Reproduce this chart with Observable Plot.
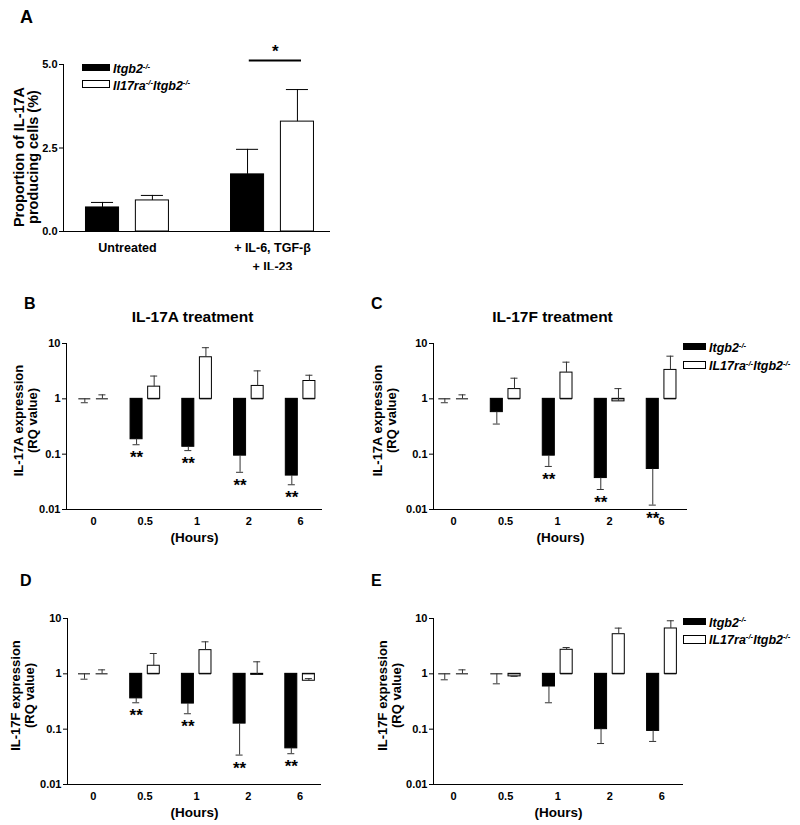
<!DOCTYPE html>
<html><head><meta charset="utf-8">
<script src="https://cdn.jsdelivr.net/npm/d3@7"></script>
<script src="https://cdn.jsdelivr.net/npm/@observablehq/plot@0.6"></script>
<style>
html,body{margin:0;padding:0;background:#fff;}
#fig{position:relative;width:800px;height:825px;background:#fff;font-family:"Liberation Sans",Arial,sans-serif;color:#000;overflow:hidden}
.pl{position:absolute}
.lab{position:absolute;font-weight:bold;line-height:1;white-space:nowrap}
.sw{position:absolute;box-sizing:border-box;border:1px solid #000}
.leg{position:absolute;font-weight:bold;font-style:italic;font-size:12.5px;line-height:1;white-space:nowrap}
.leg sup{font-size:0.62em;vertical-align:0;position:relative;top:-0.55em}
</style></head><body><div id="fig"></div>
<script>
// ---------- Panel A data ----------
const groupsA = ["Untreated", "+ IL-6, TGF-β\n+ IL-23"];
const aItgb2 = [0.72, 1.71];
const aItgb2Err = [0.87, 2.46];
const aDKO = [0.93, 3.29];
const aDKOErr = [1.08, 4.25];
const aTicks = [0, 2.5, 5];
const aSig = ["", "*"];
const aSigLevel = 5.12;

// ---------- Time-course data (B-E) ----------
const hours = ["0", "0.5", "1", "2", "6"];
const logTicks = [0.01, 0.1, 1, 10];

const bItgb2 = [1, 0.186, 0.136, 0.094, 0.041];
const bItgb2Err = [0.85, 0.148, 0.116, 0.047, 0.028];
const bDKO = [1, 1.66, 5.64, 1.71, 2.1];
const bDKOErr = [1.18, 2.58, 8.4, 3.2, 2.67];
const bSig = ["", "**", "**", "**", "**"];

const cItgb2 = [1, 0.575, 0.094, 0.037, 0.054];
const cItgb2Err = [0.85, 0.35, 0.06, 0.023, 0.012];
const cDKO = [1, 1.5, 2.98, 0.9, 3.33];
const cDKOErr = [1.18, 2.36, 4.6, 1.53, 5.9];
const cSig = ["", "", "**", "**", "**"];

const dItgb2 = [1, 0.36, 0.29, 0.126, 0.045];
const dItgb2Err = [0.8, 0.30, 0.19, 0.034, 0.036];
const dDKO = [1, 1.4, 2.68, 0.96, 0.75];
const dDKOErr = [1.18, 2.33, 3.79, 1.65, 0.82];
const dSig = ["", "**", "**", "**", "**"];

const eItgb2 = [1, 1, 0.59, 0.1, 0.093];
const eItgb2Err = [0.78, 0.66, 0.30, 0.055, 0.06];
const eDKO = [1, 0.9, 2.72, 5.2, 6.6];
const eDKOErr = [1.18, 0.9, 2.99, 6.7, 9.1];
const eSig = ["", "", "", "", ""];

const legendA = ["Itgb2<sup>-/-</sup>", "Il17ra<sup>-/-</sup>Itgb2<sup>-/-</sup>"];
const legendCE = ["Itgb2<sup>-/-</sup>", "IL17ra<sup>-/-</sup>Itgb2<sup>-/-</sup>"];

const FONT = '"Liberation Sans", Arial, sans-serif';
const fig = document.getElementById("fig");

function rowsOf(a, aErr, b, bErr, sig) {
  const out = [];
  a.forEach((v, i) => {
    out.push({i, s: 0, value: v, err: aErr[i], sig: sig[i]});
    out.push({i, s: 1, value: b[i], err: bErr[i], sig: ""});
  });
  return out;
}

function place(node, left, top) {
  const d = document.createElement("div");
  d.className = "pl";
  d.style.left = left + "px";
  d.style.top = top + "px";
  d.appendChild(node);
  fig.appendChild(d);
}
function label(text, left, top, size) {
  const d = document.createElement("div");
  d.className = "lab";
  d.style.left = left + "px"; d.style.top = top + "px"; d.style.fontSize = size + "px";
  d.textContent = text;
  fig.appendChild(d);
}
function legend(items, swLeft, swW, swTops, swHs, textLeft, textTops) {
  items.forEach((t, k) => {
    const s = document.createElement("div");
    s.className = "sw";
    s.style.left = swLeft + "px"; s.style.top = swTops[k] + "px";
    s.style.width = swW + "px"; s.style.height = swHs[k] + "px";
    s.style.background = k === 0 ? "#000" : "#fff";
    fig.appendChild(s);
    const l = document.createElement("div");
    l.className = "leg";
    l.style.left = textLeft + "px"; l.style.top = textTops[k] + "px";
    l.innerHTML = t;
    fig.appendChild(l);
  });
}

const baseStyle = {fontFamily: FONT, fontSize: "11px", fontWeight: "bold", color: "black", background: "white", overflow: "visible"};

// ---------- Panel A ----------
{
  const rows = rowsOf(aItgb2, aItgb2Err, aDKO, aDKOErr, aSig);
  const off = 0.172, hw = 0.114, cw = 0.076;
  const c = d => d.i + (d.s ? off : -off);
  const xd = [-0.441, 1.4];
  const sigRows = rows.filter(d => d.sig);
  const p = Plot.plot({
    width: 400, height: 270, marginLeft: 63, marginRight: 70, marginTop: 64, marginBottom: 39,
    x: {type: "linear", domain: xd, axis: null},
    y: {type: "linear", domain: [0, 5]},
    style: baseStyle,
    marks: [
      Plot.rect(rows, {x1: d => c(d) - hw, x2: d => c(d) + hw, y1: () => 0, y2: "value",
        fill: d => d.s ? "white" : "black", stroke: "black", strokeWidth: 1}),
      Plot.ruleX(rows, {x: c, y1: "value", y2: "err", stroke: "black"}),
      Plot.ruleY(rows, {y: "err", x1: d => c(d) - cw, x2: d => c(d) + cw, stroke: "black"}),
      Plot.ruleY(sigRows, {y: () => aSigLevel, x1: d => d.i - 0.16, x2: d => d.i + 0.2, stroke: "black", strokeWidth: 2}),
      Plot.text(sigRows, {x: d => d.i + 0.02, y: () => aSigLevel, text: "sig", dy: -9, fontSize: 17}),
      Plot.ruleX([xd[0]]),
      Plot.ruleY([0]),
      Plot.axisY({ticks: aTicks, tickFormat: d3.format(".1f"), tickSize: 4, tickPadding: 2, fontSize: 11, fontWeight: "bold"}),
      Plot.text(groupsA, {x: (d, i) => i, frameAnchor: "bottom", lineAnchor: "top", dy: 7, fontSize: 12.5, lineHeight: 1.5}),
      Plot.text(["Proportion of IL-17A\nproducing cells (%)"], {frameAnchor: "left", rotate: -90, textAnchor: "middle", lineAnchor: "middle",
        dx: -37, dy: 9, fontSize: 14.5, lineHeight: 1.0})
    ]
  });
  place(p, 0, 0);
}

// ---------- Time panels ----------
function timePanel(o) {
  const rows = rowsOf(o.a, o.aErr, o.b, o.bErr, o.sig);
  const hw = 0.116, cw = 0.068;
  const c = d => d.i + (d.s ? 0.172 : -0.168);
  const marks = [
    Plot.rect(rows, {x1: d => c(d) - hw, x2: d => c(d) + hw, y1: () => 1, y2: "value",
      fill: d => d.s ? "white" : "black", stroke: "black", strokeWidth: 1}),
    Plot.ruleY(rows, {y: () => 1, x1: d => c(d) - hw, x2: d => c(d) + hw, stroke: "black"}),
    Plot.ruleX(rows, {x: c, y1: "value", y2: "err", stroke: "#333"}),
    Plot.ruleY(rows, {y: "err", x1: d => c(d) - cw, x2: d => c(d) + cw, stroke: "#333"}),
    Plot.text(rows.filter(d => d.sig), {x: c, y: "err", text: "sig", dy: 13, fontSize: 17}),
    Plot.ruleX([o.xd[0]]),
    Plot.ruleY([0.01]),
    Plot.axisY({ticks: logTicks, tickFormat: d => String(d), tickSize: 4, tickPadding: 2, fontSize: 11, fontWeight: "bold"}),
    Plot.axisX({ticks: hours.map((_, i) => i), tickFormat: i => hours[i], tickSize: 0, tickPadding: 8, fontSize: 11, fontWeight: "bold"}),
    Plot.text([o.ylabel], {frameAnchor: "left", rotate: -90, textAnchor: "middle", lineAnchor: "middle",
      dx: o.ydx, dy: o.ydy, fontSize: 13, lineHeight: 1.05}),
    Plot.text(["(Hours)"], {frameAnchor: "bottom", lineAnchor: "middle", dy: 28, fontSize: 13.5})
  ];
  if (o.title) marks.push(Plot.text([o.title], {frameAnchor: "top", lineAnchor: "middle", dx: o.tdx, dy: -26, fontSize: 15.5}));
  const p = Plot.plot({
    width: o.w, height: o.h, marginLeft: o.ml, marginRight: o.mr, marginTop: o.mt, marginBottom: o.mb,
    x: {type: "linear", domain: o.xd},
    y: {type: "log", domain: [0.01, 10]},
    style: baseStyle,
    marks
  });
  place(p, o.left, o.top);
}

timePanel({a: bItgb2, aErr: bItgb2Err, b: bDKO, bErr: bDKOErr, sig: bSig,
  left: 0, top: 270, w: 367, h: 280, ml: 66, mr: 45, mt: 73, mb: 41, xd: [-0.522, 4.425],
  ylabel: "IL-17A expression\n(RQ value)", ydx: -41, ydy: -6, title: "IL-17A treatment", tdx: -2});
timePanel({a: cItgb2, aErr: cItgb2Err, b: cDKO, bErr: cDKOErr, sig: cSig,
  left: 367, top: 270, w: 433, h: 280, ml: 66, mr: 113, mt: 73, mb: 41, xd: [-0.386, 4.5],
  ylabel: "IL-17A expression\n(RQ value)", ydx: -49, ydy: -6, title: "IL-17F treatment", tdx: -8});
timePanel({a: dItgb2, aErr: dItgb2Err, b: dDKO, bErr: dDKOErr, sig: dSig,
  left: 0, top: 550, w: 367, h: 275, ml: 67, mr: 46, mt: 68, mb: 41, xd: [-0.497, 4.416],
  ylabel: "IL-17F expression\n(RQ value)", ydx: -45, ydy: -6});
timePanel({a: eItgb2, aErr: eItgb2Err, b: eDKO, bErr: eDKOErr, sig: eSig,
  left: 367, top: 550, w: 433, h: 275, ml: 66, mr: 117, mt: 68, mb: 41, xd: [-0.384, 4.415],
  ylabel: "IL-17F expression\n(RQ value)", ydx: -44, ydy: -6});

// ---------- Legends ----------
legend(legendA, 82, 28, [64, 80], [7, 8], 113, [63.4, 79.6]);
legend(legendCE, 683, 23, [343, 361], [7, 8], 709, [342.4, 360.2]);
legend(legendCE, 683, 23, [618, 635], [7, 9], 709, [616.6, 633.6]);

// ---------- Panel letters ----------
label("A", 20, 7.7, 18);
label("B", 24, 296, 16);
label("C", 371, 296, 16);
label("D", 20, 573, 16);
label("E", 371, 573, 16);
</script></body></html>
